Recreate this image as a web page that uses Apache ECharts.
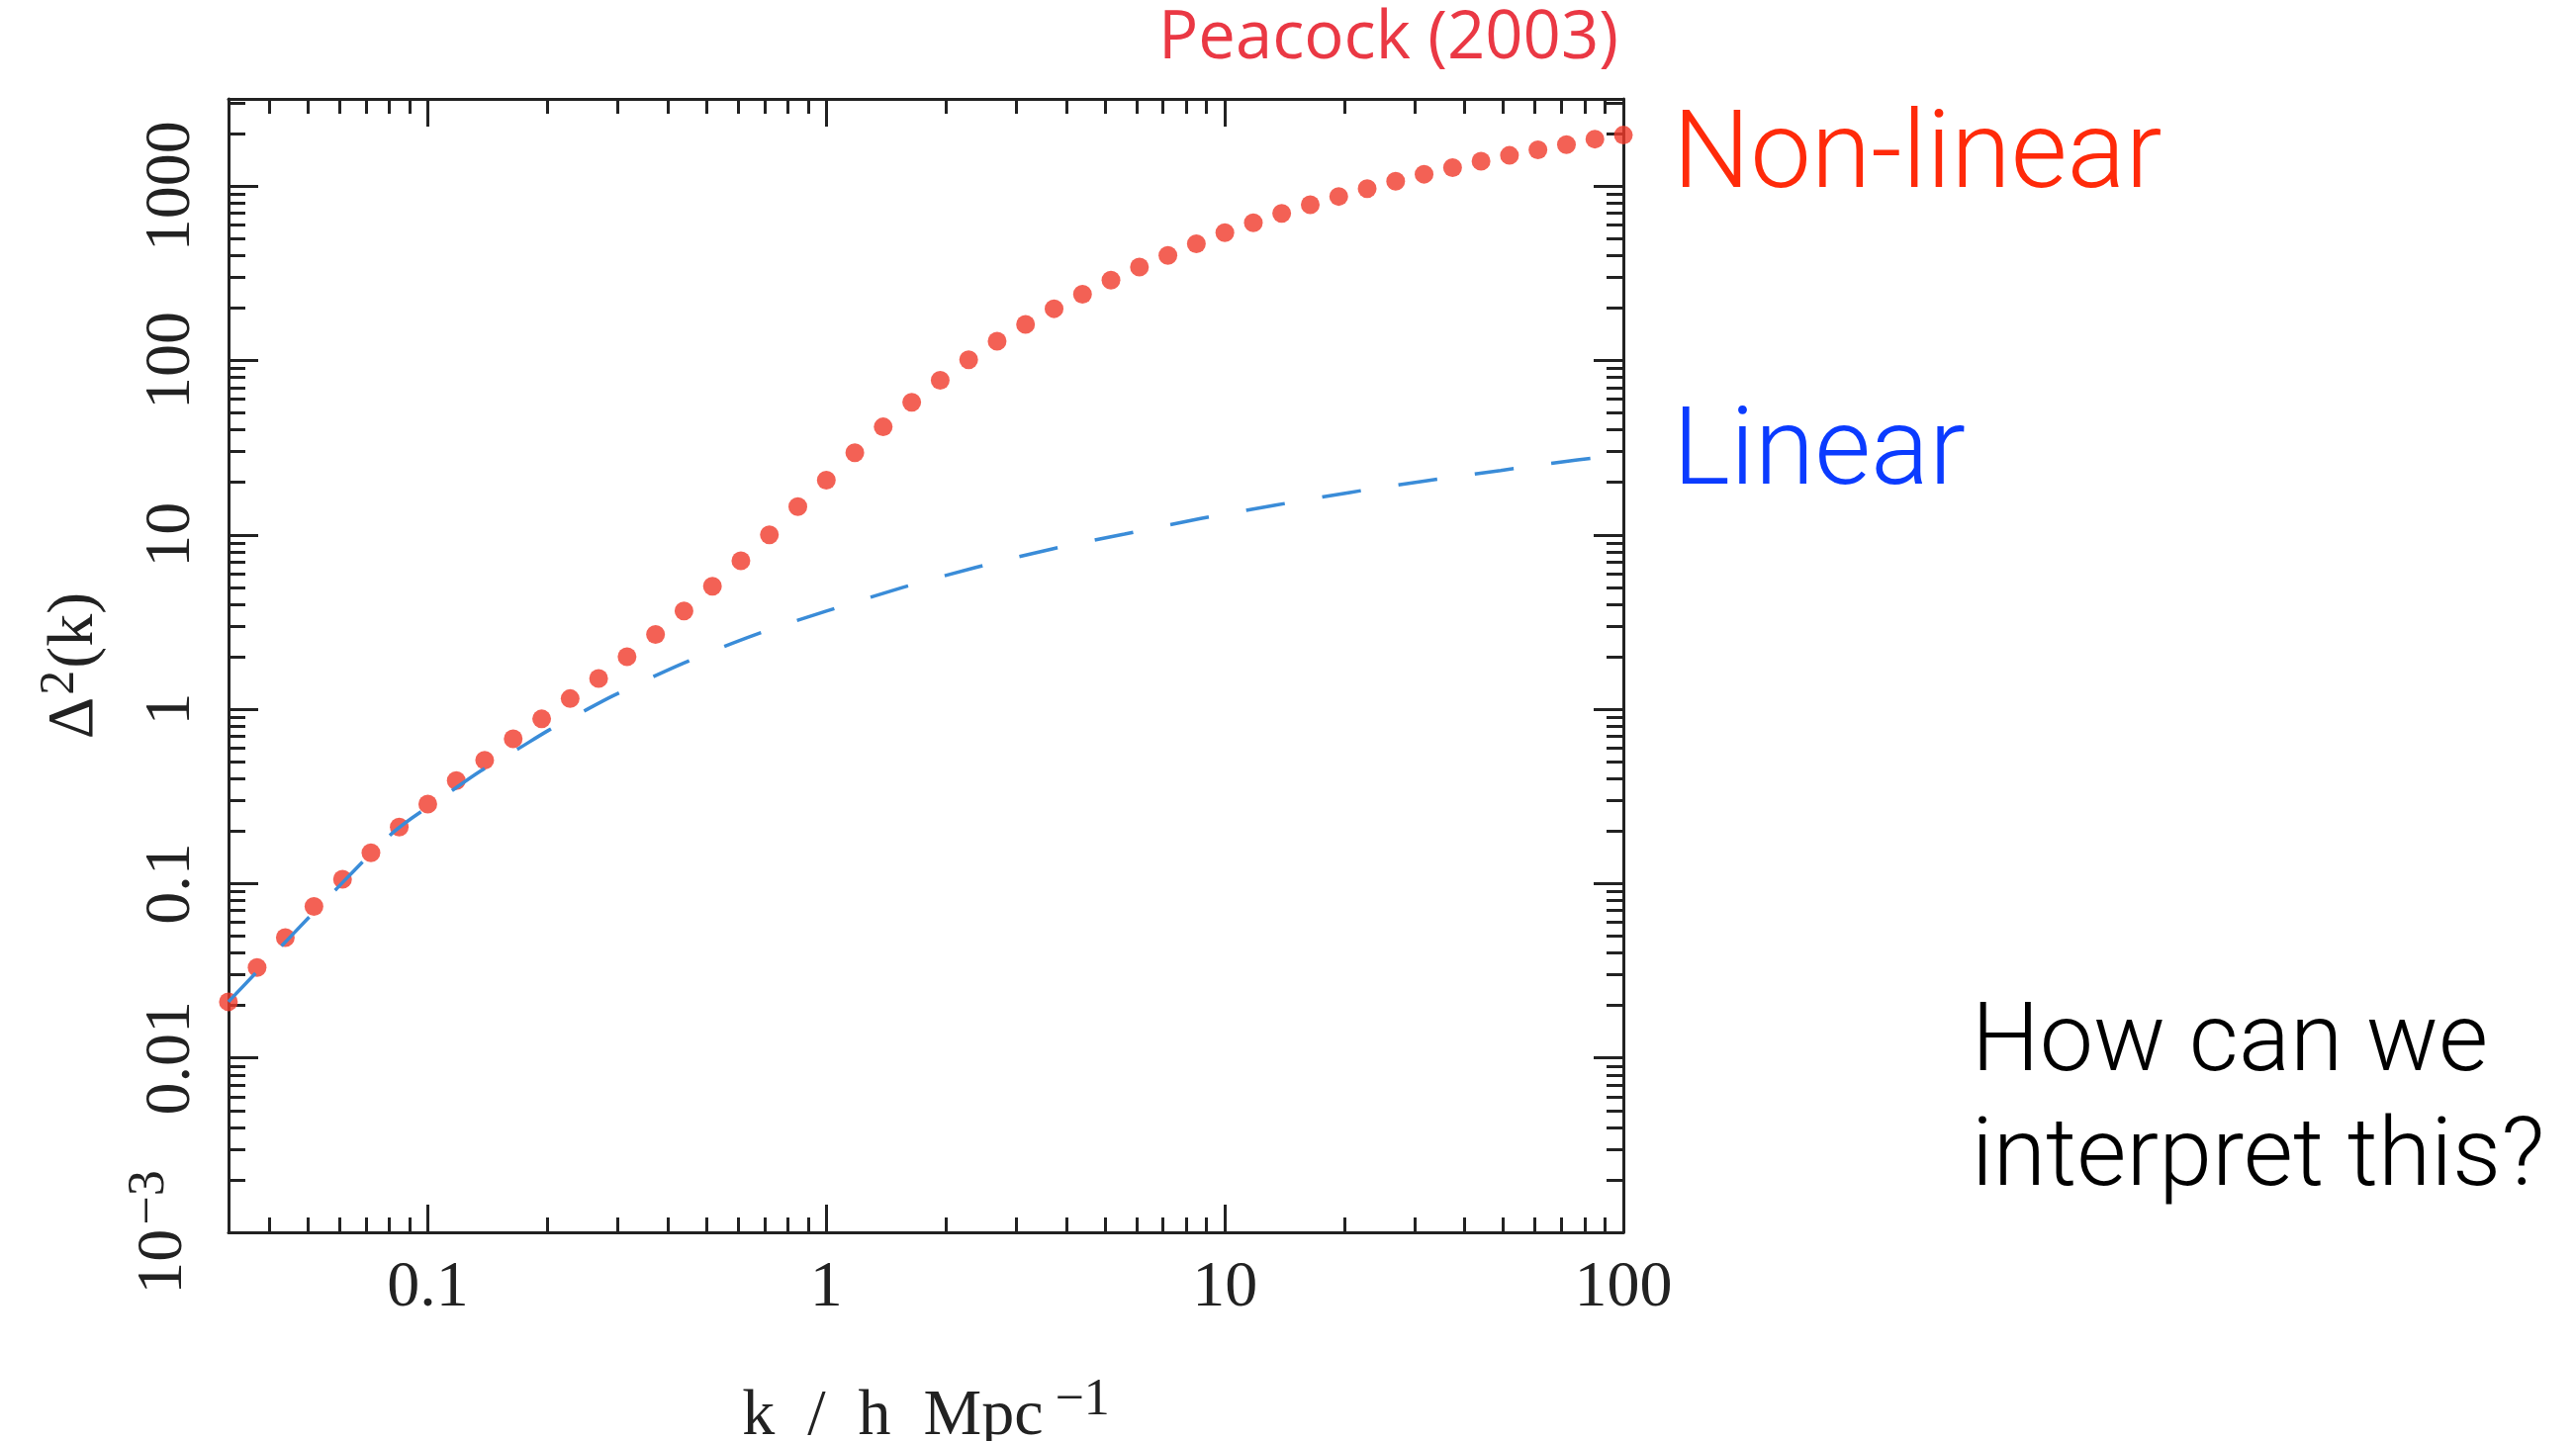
<!DOCTYPE html>
<html>
<head>
<meta charset="utf-8">
<title>Peacock (2003)</title>
<script src="https://cdn.jsdelivr.net/npm/echarts@6/dist/echarts.min.js"></script>
<style>
	html, body { margin: 0; padding: 0; background: #fff; }
	.echar-1 { width: 2604px; height: 1457px; }
</style>
</head>
<body>
<div class="echar-1"></div>
<script>
// k (h/Mpc) for the red points
var kDots = [0.0316, 0.0373, 0.0439, 0.0518, 0.0611, 0.072, 0.0848, 0.1, 0.1179, 0.1389,
	0.1638, 0.1931, 0.2276, 0.2683, 0.3162, 0.3728, 0.4394, 0.5179, 0.6105, 0.7197,
	0.8483, 1, 1.179, 1.389, 1.638, 1.931, 2.276, 2.683, 3.162, 3.728,
	4.394, 5.179, 6.105, 7.197, 8.483, 10, 11.79, 13.89, 16.38, 19.31,
	22.76, 26.83, 31.62, 37.28, 43.94, 51.79, 61.05, 71.97, 84.83, 100];
// non-linear Delta^2(k)
var nonLinear = [0.021, 0.033, 0.049, 0.074, 0.106, 0.15, 0.211, 0.286, 0.39, 0.51,
	0.677, 0.88, 1.15, 1.5, 2.0, 2.68, 3.66, 5.07, 7.1, 10.0,
	14.5, 20.6, 29.6, 41.6, 57.5, 77, 101, 129, 161, 198,
	240, 289, 343, 400, 467, 540, 616, 698, 782, 872,
	967, 1065, 1170, 1275, 1390, 1500, 1615, 1730, 1860, 1960];

// linear theory curve
var kLin = [0.0316, 0.0584, 0.0824, 0.112, 0.136, 0.166, 0.201, 0.243, 0.293, 0.439,
	0.662, 1, 1.55, 2.37, 3.67, 5.6, 8.7, 13.4, 20.6, 31.9, 49.2, 76.7, 100];
var linear = [0.021, 0.091, 0.199, 0.327, 0.444, 0.58, 0.757, 0.958, 1.2, 1.84,
	2.67, 3.65, 4.98, 6.5, 8.28, 10.1, 12.4, 14.8, 17.5, 20.4, 23.4, 26.9, 28.7];

var xLabels = ['0.1', '1', '10', '100'];
var yLabels = ['{b|10}{s|\u22123}', '0.01', '0.1', '1', '10', '100', '1000'];

var xMin = 0.03162, xMax = 100;
var yMin = 0.001, yMax = 3162;

var ink = '#222';
var serif = 'Liberation Serif';
var sans = 'Roboto';

function isDecade(v) {
	let l = Math.log10(v);
	return Math.abs(l - Math.round(l)) < 1e-6;
}

function pairs(xs, ys) {
	let out = [];
	for (let i = 0; i < xs.length; i++) {
		out.push([xs[i], ys[i]]);
	}
	return out;
}

function xAxisOf(pos, show) {
	return {
		type: 'log',
		position: pos,
		min: xMin,
		max: xMax,
		axisLine: { show: true, lineStyle: { color: ink, width: 3 } },
		axisTick: { show: true, inside: true, length: 28, lineStyle: { color: ink, width: 3 } },
		minorTick: { show: true, splitNumber: 9, length: 15, lineStyle: { color: ink, width: 3 } },
		splitLine: { show: false },
		minorSplitLine: { show: false },
		axisLabel: {
			show: show,
			margin: 24,
			fontFamily: serif,
			fontSize: 66,
			color: ink,
			formatter: function(v) {
				if (!isDecade(v)) return '';
				let idx = Math.round(Math.log10(v)) + 1;
				return xLabels[idx] || '';
			}
		}
	};
}

function yAxisOf(pos, show) {
	return {
		type: 'log',
		position: pos,
		min: yMin,
		max: yMax,
		axisLine: { show: true, lineStyle: { color: ink, width: 3 } },
		axisTick: { show: true, inside: true, length: 30, lineStyle: { color: ink, width: 3 } },
		minorTick: { show: true, splitNumber: 9, length: 17, lineStyle: { color: ink, width: 3 } },
		splitLine: { show: false },
		minorSplitLine: { show: false },
		axisLabel: {
			show: show,
			rotate: 90,
			margin: 24,
			fontFamily: serif,
			fontSize: 66,
			color: ink,
			formatter: function(v) {
				if (!isDecade(v)) return '';
				let idx = Math.round(Math.log10(v)) + 3;
				return yLabels[idx] || '';
			},
			rich: {
				b: { fontFamily: serif, fontSize: 66, color: ink },
				s: { fontFamily: serif, fontSize: 52, color: ink, verticalAlign: 'top', padding: [0, 0, 30, 4] }
			}
		}
	};
}

let chartDom = document.getElementsByClassName('echar-1')[0];
let myChart = echarts.init(chartDom, null, { renderer: 'canvas' });
let option;

let xMain = xAxisOf('bottom', true);
xMain.name = '{t|k  /  h  Mpc}{s|\u22121}';
xMain.nameLocation = 'middle';
xMain.nameGap = 144;
xMain.nameTextStyle = {
	rich: {
		t: { fontFamily: serif, fontSize: 66, color: ink },
		s: { fontFamily: serif, fontSize: 52, color: ink, verticalAlign: 'top', padding: [0, 0, 34, 12] }
	}
};

let yMain = yAxisOf('left', true);
yMain.name = '{t|\u0394}{s|2}{t|(k)}';
yMain.nameLocation = 'middle';
yMain.nameGap = 115;
yMain.nameRotate = 90;
yMain.nameTextStyle = {
	rich: {
		t: { fontFamily: serif, fontSize: 66, color: ink },
		s: { fontFamily: serif, fontSize: 50, color: ink, verticalAlign: 'top', padding: [0, 2, 30, 2] }
	}
};

option = {
	backgroundColor: '#fff',
	animation: false,
	grid: { left: 231, right: 963, top: 100, bottom: 211, outerBoundsMode: 'none', containLabel: false },
	xAxis: [xMain, xAxisOf('top', false)],
	yAxis: [yMain, yAxisOf('right', false)],
	series: [{
		name: 'Non-linear',
		type: 'scatter',
		symbol: 'circle',
		symbolSize: 19,
		clip: false,
		itemStyle: { color: '#f0392a' },
		data: pairs(kDots, nonLinear)
	}, {
		name: 'Linear',
		type: 'line',
		smooth: 0.3,
		showSymbol: false,
		symbol: 'none',
		lineStyle: { color: '#3a8cd8', width: 3.5, type: [40, 38] },
		data: pairs(kLin, linear)
	}],
	graphic: [{
		type: 'text', x: 1636, y: 40,
		style: { text: 'Peacock (2003)', fill: '#ea3844', fontFamily: 'Open Sans', fontSize: 67, align: 'right', verticalAlign: 'middle' }
	}, {
		type: 'text', x: 1691, y: 161,
		style: { text: 'Non-linear', fill: '#ff2a0a', fontFamily: sans, fontWeight: 300, fontSize: 110, align: 'left', verticalAlign: 'middle' }
	}, {
		type: 'text', x: 1691, y: 461,
		style: { text: 'Linear', fill: '#0b3bff', fontFamily: sans, fontWeight: 300, fontSize: 110, align: 'left', verticalAlign: 'middle' }
	}, {
		type: 'text', x: 1993, y: 1058,
		style: { text: 'How can we', fill: '#000', fontFamily: sans, fontWeight: 300, fontSize: 97, align: 'left', verticalAlign: 'middle' }
	}, {
		type: 'text', x: 1993, y: 1174,
		style: { text: 'interpret this?', fill: '#000', fontFamily: sans, fontWeight: 300, fontSize: 97, align: 'left', verticalAlign: 'middle' }
	}]
};
option && myChart.setOption(option);
</script>
</body>
</html>
